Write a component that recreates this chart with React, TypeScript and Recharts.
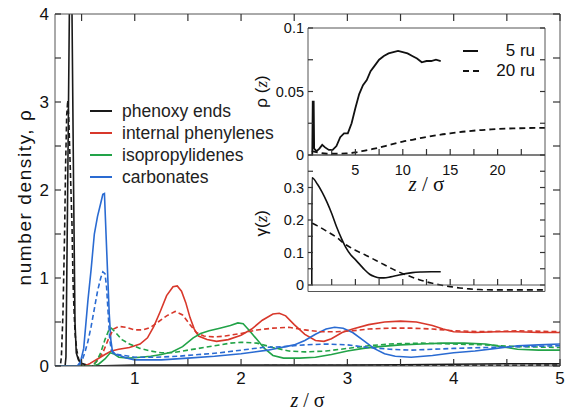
import React from 'react';
import { LineChart, Line, XAxis, YAxis, Legend } from 'recharts';

const FONT = '"Liberation Sans", Arial, Helvetica, sans-serif';
const SERIF = '"Liberation Serif", "Times New Roman", Times, serif';

// ---------- main panel: [z/σ, number density ρ] ----------
const phenoxySolid = [
  [0.25, 0], [0.345, 0], [0.353, 0.1], [0.37, 2.1], [0.385, 4.0], [0.397, 5.5], [0.41, 4.0],
  [0.425, 2.0], [0.438, 0.5], [0.45, 0.15], [0.47, 0.07], [0.5, 0.03], [0.55, 0.01], [0.6, 0],
  [1.0, 0.01], [1.5, 0.01], [2.0, 0.01], [2.5, 0.01], [3.0, 0.01], [3.5, 0.015], [4.0, 0.02],
  [4.5, 0.025], [5.0, 0.025],
];
const phenoxyDashed = [
  [0.25, 0], [0.3, 0], [0.31, 0.1], [0.325, 0.6], [0.34, 1.5], [0.35, 2.3], [0.36, 2.85],
  [0.37, 3.02], [0.38, 2.8], [0.39, 2.4], [0.4, 2.0], [0.41, 1.6], [0.42, 0.95], [0.43, 0.6],
  [0.44, 0.35], [0.455, 0.18], [0.47, 0.09], [0.485, 0.03], [0.5, 0.01], [0.55, 0], [5.0, 0.01],
];
const phenylSolid = [
  [0.25, 0], [0.53, 0], [0.58, 0.03], [0.65, 0.08], [0.72, 0.13], [0.78, 0.17], [0.85, 0.19],
  [0.95, 0.21], [1.05, 0.25], [1.12, 0.32], [1.18, 0.45], [1.24, 0.62], [1.3, 0.8], [1.36, 0.9],
  [1.4, 0.91], [1.44, 0.85], [1.48, 0.72], [1.52, 0.55], [1.56, 0.42], [1.6, 0.34], [1.68, 0.3],
  [1.77, 0.28], [1.88, 0.3], [2.0, 0.35], [2.1, 0.42], [2.2, 0.52], [2.3, 0.59], [2.36, 0.6],
  [2.42, 0.57], [2.5, 0.47], [2.6, 0.36], [2.7, 0.29], [2.78, 0.28], [2.85, 0.31], [2.95, 0.38],
  [3.05, 0.42], [3.2, 0.47], [3.35, 0.5], [3.5, 0.51], [3.65, 0.5], [3.8, 0.46], [3.9, 0.42],
  [4.0, 0.39], [4.2, 0.38], [4.4, 0.39], [4.6, 0.39], [4.8, 0.38], [5.0, 0.38],
];
const phenylDashed = [
  [0.25, 0], [0.6, 0], [0.64, 0.05], [0.7, 0.15], [0.75, 0.3], [0.8, 0.42], [0.85, 0.45],
  [0.92, 0.44], [1.0, 0.41], [1.08, 0.41], [1.15, 0.44], [1.22, 0.5], [1.3, 0.57], [1.38, 0.62],
  [1.45, 0.58], [1.52, 0.47], [1.58, 0.38], [1.65, 0.34], [1.75, 0.33], [1.85, 0.34], [2.0, 0.37],
  [2.15, 0.41], [2.3, 0.43], [2.45, 0.44], [2.6, 0.41], [2.75, 0.39], [2.9, 0.39], [3.05, 0.4],
  [3.2, 0.42], [3.4, 0.43], [3.6, 0.43], [3.8, 0.42], [4.0, 0.4], [4.3, 0.39], [4.6, 0.4], [5.0, 0.39],
];
const isopropSolid = [
  [0.25, 0], [0.6, 0], [0.66, 0.02], [0.72, 0.08], [0.77, 0.15], [0.8, 0.14], [0.85, 0.1],
  [0.95, 0.09], [1.05, 0.1], [1.15, 0.11], [1.25, 0.13], [1.35, 0.16], [1.45, 0.22], [1.55, 0.32],
  [1.62, 0.37], [1.7, 0.4], [1.8, 0.43], [1.9, 0.46], [1.97, 0.49], [2.02, 0.48], [2.08, 0.4],
  [2.15, 0.3], [2.22, 0.2], [2.3, 0.12], [2.4, 0.09], [2.55, 0.09], [2.7, 0.1], [2.85, 0.13],
  [3.0, 0.17], [3.15, 0.2], [3.3, 0.22], [3.5, 0.24], [3.7, 0.25], [3.9, 0.26], [4.1, 0.26],
  [4.3, 0.25], [4.45, 0.22], [4.6, 0.19], [4.8, 0.18], [5.0, 0.18],
];
const isopropDashed = [
  [0.25, 0], [0.6, 0], [0.64, 0.05], [0.68, 0.15], [0.72, 0.3], [0.76, 0.42], [0.78, 0.43],
  [0.82, 0.38], [0.88, 0.3], [0.95, 0.25], [1.05, 0.2], [1.15, 0.17], [1.25, 0.15], [1.35, 0.15],
  [1.45, 0.17], [1.6, 0.2], [1.75, 0.23], [1.9, 0.26], [2.0, 0.27], [2.15, 0.26], [2.3, 0.21],
  [2.45, 0.17], [2.6, 0.16], [2.8, 0.17], [3.0, 0.2], [3.2, 0.23], [3.4, 0.25], [3.7, 0.26],
  [4.0, 0.25], [4.3, 0.24], [4.6, 0.22], [5.0, 0.21],
];
const carbonateSolid = [
  [0.25, 0], [0.46, 0], [0.49, 0.05], [0.52, 0.2], [0.56, 0.75], [0.59, 1.1], [0.62, 1.5],
  [0.65, 1.7], [0.68, 1.85], [0.7, 1.95], [0.715, 1.96], [0.73, 1.5], [0.745, 1.05], [0.76, 0.6],
  [0.775, 0.3], [0.79, 0.17], [0.82, 0.13], [0.86, 0.12], [0.92, 0.09], [1.0, 0.07], [1.25, 0.07],
  [1.5, 0.09], [1.75, 0.11], [2.0, 0.14], [2.25, 0.18], [2.5, 0.24], [2.6, 0.29], [2.7, 0.36],
  [2.8, 0.42], [2.88, 0.44], [2.96, 0.43], [3.05, 0.38], [3.15, 0.29], [3.25, 0.2], [3.35, 0.14],
  [3.45, 0.11], [3.6, 0.1], [3.8, 0.12], [4.0, 0.15], [4.2, 0.17], [4.4, 0.2], [4.6, 0.23],
  [4.8, 0.24], [5.0, 0.25],
];
const carbonateDashed = [
  [0.25, 0], [0.47, 0], [0.5, 0.05], [0.53, 0.15], [0.56, 0.28], [0.59, 0.45], [0.62, 0.65],
  [0.65, 0.85], [0.68, 1.0], [0.7, 1.07], [0.72, 1.05], [0.735, 0.9], [0.75, 0.6], [0.765, 0.3],
  [0.78, 0.18], [0.8, 0.14], [0.9, 0.12], [1.0, 0.1], [1.2, 0.1], [1.4, 0.11], [1.6, 0.13],
  [1.8, 0.15], [2.0, 0.18], [2.2, 0.21], [2.4, 0.22], [2.6, 0.24], [2.8, 0.25], [3.0, 0.24],
  [3.2, 0.21], [3.4, 0.19], [3.6, 0.18], [3.8, 0.19], [4.0, 0.2], [4.3, 0.21], [4.6, 0.22], [5.0, 0.23],
];

// ---------- inset: ρ(z) and γ(z) vs z/σ ----------
const rho5ru = [
  [0.4, 0], [0.45, 0.0], [0.5, 0.042], [0.6, 0.042], [0.65, 0.005], [0.9, 0.003], [1.2, 0.005],
  [1.5, 0.008], [1.8, 0.006], [2.2, 0.004], [2.6, 0.004], [3.0, 0.007], [3.4, 0.014], [3.8, 0.017],
  [4.2, 0.017], [4.6, 0.025], [5.0, 0.037], [5.4, 0.048], [5.8, 0.055], [6.2, 0.059], [6.6, 0.066],
  [7.0, 0.07], [7.5, 0.075], [8.0, 0.078], [8.5, 0.08], [9.0, 0.081], [9.5, 0.082], [10.0, 0.081],
  [10.5, 0.08], [11.0, 0.078], [11.5, 0.076], [12.0, 0.073], [12.5, 0.074], [13.0, 0.074],
  [13.5, 0.075], [14.0, 0.074],
];
const rho20ru = [
  [0.4, 0.003], [1, 0.002], [2, 0.001], [3, 0.001], [4, 0.0012], [5, 0.002], [6, 0.0035],
  [7, 0.005], [8, 0.0068], [9, 0.0088], [10, 0.0106], [11, 0.012], [12, 0.0135], [13, 0.0148],
  [14, 0.016], [15, 0.017], [16, 0.018], [17, 0.0188], [18, 0.0195], [19, 0.02], [20, 0.0205],
  [21, 0.0208], [22, 0.021], [23, 0.0212], [24, 0.0213], [25, 0.0213],
];
const gamma5ru = [
  [0.4, 0], [0.42, 0.33], [1, 0.31], [1.5, 0.285], [2, 0.255], [2.5, 0.22], [3, 0.18], [3.5, 0.145],
  [4, 0.115], [4.5, 0.093], [5, 0.078], [5.5, 0.062], [6, 0.046], [6.5, 0.033], [7, 0.026],
  [7.5, 0.022], [8, 0.022], [8.7, 0.025], [9.5, 0.03], [10.3, 0.035], [11, 0.038], [12, 0.04],
  [13, 0.041], [14, 0.041],
];
const gamma20ru = [
  [0.45, 0.19], [1, 0.182], [2, 0.165], [3, 0.147], [3.8, 0.128], [5, 0.107], [6, 0.093],
  [7, 0.078], [8, 0.063], [9, 0.048], [10, 0.035], [11, 0.024], [12, 0.014], [13, 0.006],
  [14, 0.0], [15, -0.005], [16, -0.009], [17, -0.012], [18, -0.014], [20, -0.015], [22, -0.015],
  [25, -0.015],
];

const seriesNames = ['phenoxy ends', 'internal phenylenes', 'isopropylidenes', 'carbonates'];
const insetNames = ['5 ru', '20 ru'];

// ---------- ticks ----------
const mainXTicks = [0.5, 1, 1.5, 2, 2.5, 3, 3.5, 4, 4.5, 5];
const mainXLabels = [1, 2, 3, 4, 5];
const mainYTicks = [0, 0.5, 1, 1.5, 2, 2.5, 3, 3.5, 4];
const mainYLabels = [0, 1, 2, 3, 4];
const insetZTicks = [2.5, 5, 7.5, 10, 12.5, 15, 17.5, 20, 22.5];
const insetZLabels = [5, 10, 15, 20];
const rhoTicks = [0, 0.025, 0.05, 0.075, 0.1];
const rhoLabels = [0, 0.05, 0.1];
const gammaTicks = [0, 0.05, 0.1, 0.15, 0.2, 0.25, 0.3, 0.35];
const gammaLabels = [0, 0.1, 0.2, 0.3];

// ---------- styles ----------
const COLORS = ['#1a1a1a', '#d8382b', '#22a348', '#2a6bd2'];
const AXIS = '#555';
const TICK = '#333';
const DASH = '5 3';

const toPts = (a: number[][]) => a.map(([z, v]) => ({ z, v }));

const mainFont = { fill: '#111', fontSize: 17, fontFamily: FONT };
const insetFont = { fill: '#111', fontSize: 14.5, fontFamily: FONT };

type Side = 'left' | 'right' | 'top' | 'bottom';
// tick renderer: inward tick mark, optional label outside
const makeTick = (side: Side, len: number, labels?: number[], font?: any, gap = 6) => (props: any) => {
  const { x, y, payload } = props;
  const v = Number(payload && payload.value);
  const lab = labels && labels.some((l) => Math.abs(l - v) < 1e-9) ? String(v) : null;
  let d = '';
  if (side === 'left') d = `M${x},${y}h${len}`;
  else if (side === 'right') d = `M${x},${y}h${-len}`;
  else if (side === 'bottom') d = `M${x},${y}v${-len}`;
  else d = `M${x},${y}v${len}`;
  return (
    <g>
      <path d={d} stroke={TICK} strokeWidth={1.2} fill="none" />
      {lab !== null && side === 'left' && (
        <text x={x - gap} y={y} dy="0.355em" textAnchor="end" {...font}>{lab}</text>
      )}
      {lab !== null && side === 'bottom' && (
        <text x={x} y={y + gap} dy="0.71em" textAnchor="middle" {...font}>{lab}</text>
      )}
    </g>
  );
};

const ZLabel = (size: number, dy: number) => (props: any) => {
  const vb = props.viewBox || {};
  const x = vb.x + vb.width / 2;
  const y = vb.y + dy;
  return (
    <text x={x} y={y} textAnchor="middle" fontFamily={SERIF} fontSize={size} fill="#111">
      <tspan fontStyle="italic">z</tspan>
      <tspan> / σ</tspan>
    </text>
  );
};

const MainYLabel = (props: any) => {
  const vb = props.viewBox || {};
  const x = vb.x + 16;
  const y = vb.y + vb.height / 2 + 7;
  return (
    <text x={x} y={y} transform={`rotate(-90 ${x} ${y})`} textAnchor="middle" fontFamily={FONT}
      fontSize={19} letterSpacing={1.6} fill="#111">
      number density, ρ
    </text>
  );
};

const InsetYLabel = (sym: string) => (props: any) => {
  const vb = props.viewBox || {};
  const x = vb.x + vb.width - 41;
  const y = vb.y + vb.height / 2;
  return (
    <text x={x} y={y} transform={`rotate(-90 ${x} ${y})`} textAnchor="middle" fontFamily={FONT}
      fontSize={17} fill="#111">
      <tspan>{sym}</tspan>
      <tspan>(</tspan>
      <tspan fontFamily={SERIF} fontStyle="italic">z</tspan>
      <tspan>)</tspan>
    </text>
  );
};

const MainLegend = (props: any) => {
  const items = (props.payload || [])
    .filter((e: any) => seriesNames.includes(e.value))
    .sort((a: any, b: any) => seriesNames.indexOf(a.value) - seriesNames.indexOf(b.value));
  return (
    <div style={{ fontFamily: FONT, fontSize: 17.5, color: '#222' }}>
      {items.map((e: any) => (
        <div key={e.value} style={{ display: 'flex', alignItems: 'center', height: 21.9 }}>
          <svg width={22} height={4} style={{ marginRight: 10 }}>
            <line x1={0} y1={2} x2={22} y2={2} stroke={e.color} strokeWidth={2} />
          </svg>
          <span style={{ whiteSpace: 'nowrap' }}>{e.value}</span>
        </div>
      ))}
    </div>
  );
};

const InsetLegend = (props: any) => {
  const items = (props.payload || [])
    .filter((e: any) => insetNames.includes(e.value))
    .sort((a: any, b: any) => insetNames.indexOf(a.value) - insetNames.indexOf(b.value));
  return (
    <div style={{ fontFamily: FONT, fontSize: 17, color: '#111' }}>
      {items.map((e: any, i: number) => (
        <div key={e.value} style={{ display: 'flex', alignItems: 'center', height: 20 }}>
          <svg width={20} height={4}>
            <line x1={0} y1={2} x2={i === 0 ? 15 : 20} y2={2} stroke="#111" strokeWidth={2}
              strokeDasharray={i === 0 ? undefined : '6 4'} />
          </svg>
          <span style={{ flex: 1, textAlign: 'right', whiteSpace: 'nowrap' }}>{e.value}</span>
        </div>
      ))}
    </div>
  );
};

const axisCommon = { tickLine: false, tickSize: 0, tickMargin: 0, interval: 0 as const, stroke: AXIS, allowDataOverflow: true };

export default function App() {
  const mainSolid = [phenoxySolid, phenylSolid, isopropSolid, carbonateSolid];
  const mainDashed = [phenoxyDashed, phenylDashed, isopropDashed, carbonateDashed];
  return (
    <div style={{ position: 'absolute', left: 0, top: 0, width: 569, height: 410, background: '#fff' }}>
      <div style={{ position: 'absolute', left: 0, top: 0 }}>
        <LineChart width={569} height={410} margin={{ top: 13, right: 8, bottom: 14, left: 15 }}>
          <XAxis type="number" dataKey="z" domain={[0.25, 5]} ticks={mainXTicks} height={30} {...axisCommon}
            tick={makeTick('bottom', 7, mainXLabels, mainFont, 6)} label={{ content: ZLabel(20, 41) }} />
          <XAxis xAxisId="top" orientation="top" type="number" dataKey="z" domain={[0.25, 5]}
            ticks={mainXTicks} height={1} {...axisCommon} tick={makeTick('top', 7)} />
          <YAxis type="number" domain={[0, 4]} ticks={mainYTicks} width={40} {...axisCommon}
            tick={makeTick('left', 6, mainYLabels, mainFont, 6)} label={{ content: MainYLabel }} />
          <YAxis yAxisId="right" orientation="right" type="number" domain={[0, 4]} ticks={mainYTicks}
            width={1} {...axisCommon} tick={makeTick('right', 7)} />
          <Legend layout="vertical" align="center" verticalAlign="middle" content={MainLegend}
            wrapperStyle={{ left: 90, top: 100.5, width: 240 }} />
          {mainSolid.map((d, i) => (
            <Line key={'s' + i} data={toPts(d)} dataKey="v" name={seriesNames[i]} type="linear"
              stroke={COLORS[i]} strokeWidth={1.6} dot={false} isAnimationActive={false} />
          ))}
          {mainDashed.map((d, i) => (
            <Line key={'d' + i} data={toPts(d)} dataKey="v" name={seriesNames[i] + ' (20 ru)'}
              legendType="none" type="linear" stroke={COLORS[i]} strokeWidth={1.6}
              strokeDasharray={DASH} dot={false} isAnimationActive={false} />
          ))}
        </LineChart>
      </div>

      {/* lower inset panel: γ(z) */}
      <div style={{ position: 'absolute', left: 240, top: 150 }}>
        <LineChart width={320} height={160} margin={{ top: 4, right: 14, bottom: 17.5, left: 18 }}>
          <XAxis type="number" dataKey="z" domain={[0, 25]} height={1} {...axisCommon} tick={false} />
          <XAxis xAxisId="top" orientation="top" type="number" dataKey="z" domain={[0, 25]} height={1}
            {...axisCommon} tick={false} />
          <YAxis type="number" domain={[-0.02, 0.4]} ticks={gammaTicks} width={50} {...axisCommon}
            tick={makeTick('left', 5, gammaLabels, insetFont, 4)} label={{ content: InsetYLabel('γ') }} />
          <YAxis yAxisId="right" orientation="right" type="number" domain={[-0.02, 0.4]} ticks={gammaTicks}
            width={1} {...axisCommon} tick={makeTick('right', 5)} />
          <Line data={toPts(gamma5ru)} dataKey="v" name="γ 5 ru" legendType="none" type="monotone"
            stroke="#111" strokeWidth={1.6} dot={false} isAnimationActive={false} />
          <Line data={toPts(gamma20ru)} dataKey="v" name="γ 20 ru" legendType="none" type="monotone"
            stroke="#111" strokeWidth={1.6} strokeDasharray="6 4" dot={false} isAnimationActive={false} />
        </LineChart>
      </div>

      {/* zero line of γ(z) with its ticks */}
      <div style={{ position: 'absolute', left: 240, top: 150 }}>
        <LineChart width={320} height={160} margin={{ top: 5, right: 15, bottom: 24, left: 68 }}>
          <XAxis type="number" dataKey="z" domain={[0, 25]} ticks={insetZTicks} height={1} {...axisCommon}
            tick={makeTick('bottom', 6)} />
          <YAxis hide type="number" domain={[0, 0.4]} allowDataOverflow />
        </LineChart>
      </div>

      {/* upper inset panel: ρ(z) */}
      <div style={{ position: 'absolute', left: 240, top: 18 }}>
        <LineChart width={320} height={195} margin={{ top: 9, right: 14, bottom: 18, left: 18 }}>
          <XAxis type="number" dataKey="z" domain={[0, 25]} ticks={insetZTicks} height={40} {...axisCommon}
            tick={makeTick('bottom', 6, insetZLabels, insetFont, 10)} label={{ content: ZLabel(21, 36) }} />
          <XAxis xAxisId="top" orientation="top" type="number" dataKey="z" domain={[0, 25]} height={1}
            {...axisCommon} tick={false} />
          <YAxis type="number" domain={[0, 0.1]} ticks={rhoTicks} width={50} {...axisCommon}
            tick={makeTick('left', 5, rhoLabels, insetFont, 4)} label={{ content: InsetYLabel('ρ ') }} />
          <YAxis yAxisId="right" orientation="right" type="number" domain={[0, 0.1]} ticks={rhoTicks}
            width={1} {...axisCommon} tick={makeTick('right', 5)} />
          <Legend layout="vertical" align="center" verticalAlign="middle" content={InsetLegend}
            wrapperStyle={{ left: 223, top: 23, width: 72 }} />
          <Line data={toPts(rho5ru)} dataKey="v" name="5 ru" type="linear" stroke="#111"
            strokeWidth={1.8} dot={false} isAnimationActive={false} />
          <Line data={toPts(rho20ru)} dataKey="v" name="20 ru" type="monotone" stroke="#111"
            strokeWidth={1.8} strokeDasharray="6 4" dot={false} isAnimationActive={false} />
        </LineChart>
      </div>
    </div>
  );
}
